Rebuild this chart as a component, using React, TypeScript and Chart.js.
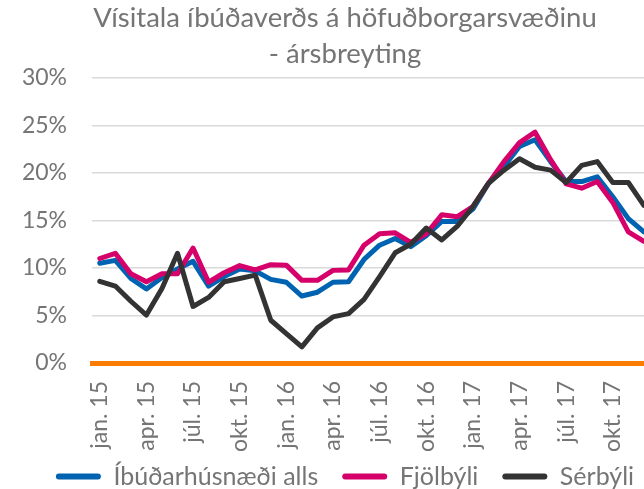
import React, { useEffect, useRef } from 'react';
import { Chart, registerables } from 'chart.js';

Chart.register(...registerables);

const months = [
  'jan. 15', 'feb. 15', 'mar. 15', 'apr. 15', 'maí. 15', 'jún. 15', 'júl. 15', 'ágú. 15', 'sep. 15', 'okt. 15', 'nóv. 15', 'des. 15',
  'jan. 16', 'feb. 16', 'mar. 16', 'apr. 16', 'maí. 16', 'jún. 16', 'júl. 16', 'ágú. 16', 'sep. 16', 'okt. 16', 'nóv. 16', 'des. 16',
  'jan. 17', 'feb. 17', 'mar. 17', 'apr. 17', 'maí. 17', 'jún. 17', 'júl. 17', 'ágú. 17', 'sep. 17', 'okt. 17', 'nóv. 17', 'des. 17',
];

const ibudarhusnaedi = [
  10.5, 10.8, 8.9, 7.8, 9.0, 9.9, 10.7, 8.1, 9.1, 9.9, 9.7, 8.8,
  8.5, 7.05, 7.45, 8.5, 8.55, 10.9, 12.4, 13.1, 12.25, 13.4, 14.9, 14.9,
  16.2, 18.9, 20.7, 22.8, 23.5, 21.2, 19.1, 19.1, 19.6, 17.5, 15.2, 13.8,
];

const fjolbyli = [
  11.0, 11.55, 9.4, 8.55, 9.4, 9.4, 12.1, 8.5, 9.5, 10.25, 9.8, 10.35,
  10.3, 8.7, 8.7, 9.75, 9.8, 12.4, 13.6, 13.7, 12.7, 13.6, 15.6, 15.4,
  16.45, 18.9, 21.2, 23.2, 24.3, 21.4, 18.85, 18.4, 19.1, 16.9, 13.8, 12.8,
];

const serbyli = [
  8.6, 8.1, 6.5, 5.05, 7.85, 11.55, 5.95, 6.9, 8.55, 8.9, 9.25, 4.5,
  3.1, 1.7, 3.7, 4.85, 5.2, 6.7, 9.1, 11.6, 12.5, 14.2, 12.95, 14.4,
  16.45, 18.9, 20.3, 21.5, 20.6, 20.3, 19.0, 20.8, 21.2, 19.0, 19.0, 16.6,
];

const titleLines = ['Vísitala íbúðaverðs á höfuðborgarsvæðinu', '- ársbreyting'];
const seriesNames = ['Íbúðarhúsnæði alls', 'Fjölbýli', 'Sérbýli'];

const FONT = 'Lato, "Open Sans", sans-serif';
const TEXT = '#757575';

// Let the rotated month labels run past the axis box (the legend sits close below).
const unclipXLabels = {
  id: 'unclipXLabels',
  afterLayout(chart: any) {
    const s = chart.scales.x;
    if (s) s.bottom = chart.height;
  },
};

export default function App() {
  const ref = useRef<HTMLCanvasElement>(null);

  useEffect(() => {
    if (!ref.current) return;
    const common = {
      borderWidth: 5,
      pointRadius: 0,
      pointHoverRadius: 0,
      tension: 0,
      borderCapStyle: 'round' as const,
      borderJoinStyle: 'round' as const,
      fill: false,
    };
    const chart = new Chart(ref.current, {
      type: 'line',
      data: {
        labels: months,
        datasets: [
          { ...common, label: seriesNames[0], data: ibudarhusnaedi, borderColor: '#0063B1', backgroundColor: '#0063B1', order: 3 },
          { ...common, label: seriesNames[1], data: fjolbyli, borderColor: '#D6006B', backgroundColor: '#D6006B', order: 2 },
          { ...common, label: seriesNames[2], data: serbyli, borderColor: '#333333', backgroundColor: '#333333', order: 1 },
        ],
      },
      plugins: [unclipXLabels],
      options: {
        responsive: false,
        animation: false,
        devicePixelRatio: 1,
        layout: { padding: 0 },
        plugins: {
          title: {
            display: true,
            text: titleLines,
            color: TEXT,
            font: { family: FONT, size: 27.5, weight: 'normal', lineHeight: 1.28 },
            padding: { top: 1, bottom: 6.6 },
          },
          legend: {
            position: 'bottom',
            labels: {
              boxWidth: 45,
              boxHeight: 6,
              useBorderRadius: true,
              borderRadius: 3,
              color: TEXT,
              font: { family: FONT, size: 25 },
              padding: 24,
              sort: (a: any, b: any) => a.datasetIndex - b.datasetIndex,
              generateLabels: (c: any) =>
                Chart.defaults.plugins.legend.labels
                  .generateLabels(c)
                  .map((l: any) => ({ ...l, lineWidth: 0, fillStyle: l.strokeStyle })),
            },
          },
          tooltip: { enabled: false },
        },
        scales: {
          x: {
            type: 'category',
            offset: true,
            grid: { display: false, drawTicks: false },
            border: { display: true, color: '#FA7D00', width: 5 },
            ticks: {
              autoSkip: false,
              minRotation: 90,
              maxRotation: 90,
              color: TEXT,
              font: { family: FONT, size: 23 },
              padding: 18,
              callback: function (this: any, value: any, index: number) {
                return index % 3 === 0 ? this.getLabelForValue(value) : '';
              },
            },
            afterFit: (s: any) => {
              s.height = 77;
            },
          },
          y: {
            min: 0,
            max: 30,
            grid: { color: '#D9D9D9', lineWidth: 1.5, drawTicks: false },
            border: { display: false },
            ticks: {
              stepSize: 5,
              color: TEXT,
              font: { family: FONT, size: 23 },
              padding: 25,
              callback: (v: any) => v + '%',
            },
            afterFit: (s: any) => {
              s.width = 92;
            },
          },
          yRight: {
            position: 'right',
            display: true,
            min: 0,
            max: 1,
            grid: { display: false, drawTicks: false },
            border: { display: false },
            ticks: { display: false },
            afterFit: (s: any) => {
              s.width = 38;
            },
          },
        },
      },
    });
    return () => chart.destroy();
  }, []);

  return (
    <div style={{ position: 'fixed', left: 0, top: 0, width: 644, height: 489, overflow: 'hidden', background: '#fff' }}>
      <canvas ref={ref} width={690} height={499} style={{ display: 'block', width: 690, height: 499 }} />
    </div>
  );
}
